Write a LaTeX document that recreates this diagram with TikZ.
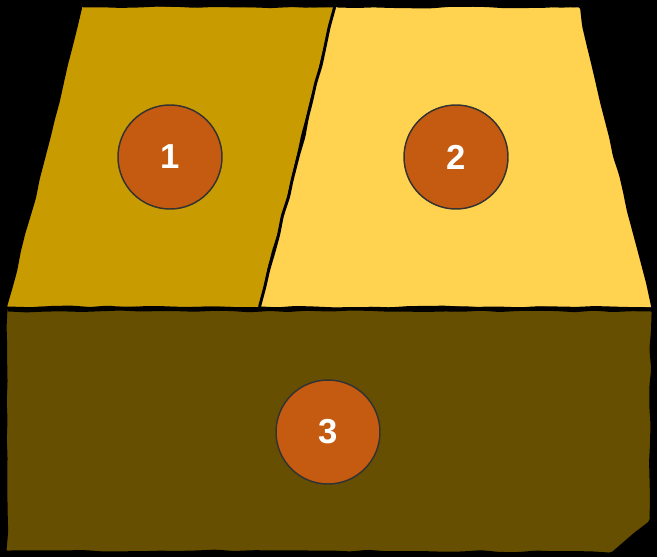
\documentclass[tikz,border=0pt]{standalone}
\usepackage{fontspec}
\setmainfont{Liberation Sans}
\usetikzlibrary{decorations.pathmorphing}

\definecolor{goldfill}{HTML}{C89B00}
\definecolor{sandfill}{HTML}{FFD34F}
\definecolor{mudfill}{HTML}{664F00}
\definecolor{badgefill}{HTML}{C55A11}
\definecolor{badgeline}{HTML}{333333}

\tikzset{
	sketch/.style={draw=black,line width=2.2pt,line join=round,
		decorate,decoration={random steps,segment length=14pt,amplitude=0.7pt},
		rounded corners=1.5pt},
	badge/.style={circle,fill=badgefill,draw=badgeline,line width=1.1pt,
		minimum size=78pt,inner sep=0pt,text=white,
		font=\bfseries\fontsize{26}{26}\selectfont}
}

\begin{document}
\begin{tikzpicture}[x=0.75pt,y=-0.75pt]
	\useasboundingbox (0,0) rectangle (657,557);
	\pgfmathsetseed{7}
	\fill[black] (0,0) rectangle (657,557);

	% the three fields
	\path[sketch,fill=goldfill] (81,6) -- (335,6) -- (298,157) -- (260,308) -- (6,308) -- (44,157) -- cycle;
	\path[sketch,fill=sandfill] (335,6) -- (580,6) -- (601,100) -- (633,228) -- (653,308) -- (260,308) -- (298,157) -- cycle;
	\path[sketch,fill=mudfill] (6,310) -- (330,310) -- (652,310) -- (651,520) -- (613,553) -- (330,552) -- (6,552) -- cycle;

	% second pass for the rough look
	\begin{scope}[line width=1.2pt]
		\path[sketch,line width=1.2pt] (6,308) -- (260,308) -- (653,308);
		\path[sketch,line width=1.2pt] (81,6) -- (335,6) -- (580,6);
	\end{scope}

	% labels
	\node[badge] (one) at (170,157) {1};
	\node[badge] (two) at (456,157) {2};
	\node[badge] (three) at (328,432) {3};
\end{tikzpicture}
\end{document}
